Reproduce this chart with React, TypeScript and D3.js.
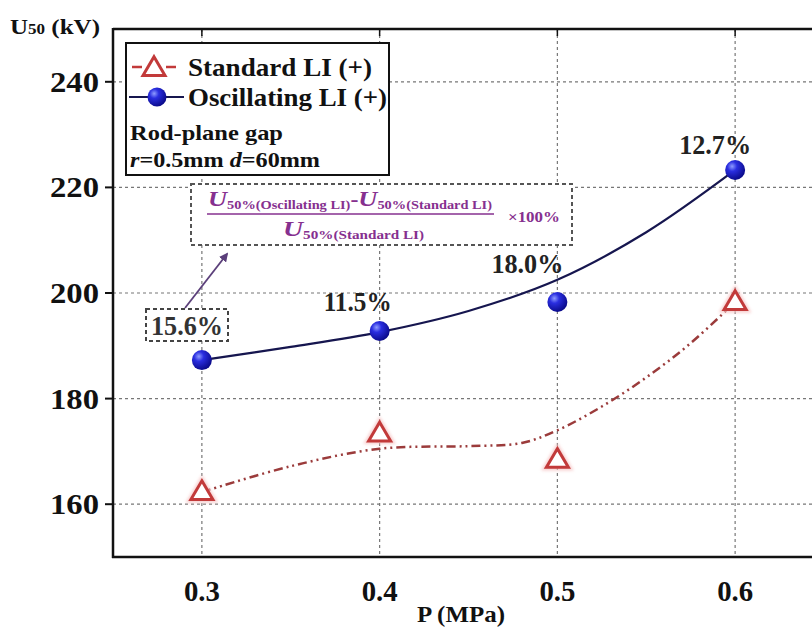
import React from "react";
import * as d3 from "d3";

const pressures = [0.3, 0.4, 0.5, 0.6];
const xTicks = [0.3, 0.4, 0.5, 0.6];
const yTicks = [160, 180, 200, 220, 240];
const standardLI = [162.3, 173.4, 168.4, 198.3];
const oscillatingLI = [187.3, 192.8, 198.3, 223.3];
const increaseLabels = ["15.6%", "11.5%", "18.0%", "12.7%"];
// fitted trend curves
const oscFitX = [0.3, 0.35, 0.4, 0.45, 0.5, 0.55, 0.6];
const oscFitY = [187.3, 189.8, 192.6, 196.6, 202.5, 211.5, 223.3];
const stdFitX = [0.3, 0.35, 0.4, 0.45, 0.48, 0.5, 0.525, 0.55, 0.575, 0.6];
const stdFitY = [162.3, 167.2, 170.5, 171.0, 171.6, 174.0, 178.5, 184.0, 190.5, 198.3];

const W = 812;
const H = 630;
const FONT = "Liberation Serif, Times New Roman, Times, Tinos, Nimbus Roman, Noto Serif, DejaVu Serif, serif";

export default function App() {
  const x = d3.scaleLinear().domain([0.25, 0.65]).range([113, 824]);
  const y = d3.scaleLinear().domain([150, 250]).range([557, 29]);

  const line = d3
    .line<[number, number]>()
    .x((d) => x(d[0]))
    .y((d) => y(d[1]))
    .curve(d3.curveCatmullRom.alpha(0.5));

  const oscPath = line(oscFitX.map((v, i) => [v, oscFitY[i]]) as [number, number][]) || "";
  const stdPath = line(stdFitX.map((v, i) => [v, stdFitY[i]]) as [number, number][]) || "";

  const tri = (cx: number, cy: number, s: number) => {
    const h = s * 0.85;
    return `M${cx},${cy - h * 0.6}L${cx + s / 2},${cy + h * 0.4}L${cx - s / 2},${cy + h * 0.4}Z`;
  };

  const labelPos = [
    { dx: -16, dy: 0, w: 0 },
    { dx: -22, dy: -20, w: 68 },
    { dx: -30, dy: -29, w: 72 },
    { dx: -20, dy: -16, w: 72 },
  ];

  const red = "#c23a3a";
  const redLine = "#9b3b3b";
  const purple = "#86308f";
  const adj = "spacingAndGlyphs";

  return (
    <svg
      width={W}
      height={H}
      style={{ position: "absolute", left: 0, top: 0, background: "#fff", fontFamily: FONT }}
    >
      <defs>
        <radialGradient id="ball" cx="0.35" cy="0.32" r="0.7">
          <stop offset="0" stopColor="#8f9cff" />
          <stop offset="0.35" stopColor="#2a2ee0" />
          <stop offset="1" stopColor="#0a0a8a" />
        </radialGradient>
        <filter id="glow" x="-50%" y="-50%" width="200%" height="200%">
          <feGaussianBlur stdDeviation="1.5" />
        </filter>
        <marker id="arr" viewBox="0 0 10 10" refX="8" refY="5" markerWidth="5" markerHeight="5" orient="auto">
          <path d="M0,0L10,5L0,10Z" fill="#5b3f7a" />
        </marker>
      </defs>
      <rect x={0} y={0} width={W} height={H} fill="#fff" />

      {/* grid */}
      {xTicks.map((t) => (
        <line key={"gx" + t} x1={x(t)} x2={x(t)} y1={29} y2={557} stroke="#777" strokeWidth={1.2} strokeDasharray="3,3" />
      ))}
      {yTicks.map((t) => (
        <line key={"gy" + t} x1={113} x2={W} y1={y(t)} y2={y(t)} stroke="#777" strokeWidth={1.2} strokeDasharray="3,3" />
      ))}

      {/* axes frame */}
      <line x1={113} x2={W} y1={29} y2={29} stroke="#111" strokeWidth={2.5} />
      <line x1={113} x2={113} y1={28} y2={558} stroke="#111" strokeWidth={2.5} />
      <line x1={112} x2={W} y1={557} y2={557} stroke="#111" strokeWidth={2.5} />
      {yTicks.map((t) => (
        <line key={"ty" + t} x1={105} x2={113} y1={y(t)} y2={y(t)} stroke="#111" strokeWidth={2} />
      ))}
      {xTicks.map((t) => (
        <line key={"tx" + t} x1={x(t)} x2={x(t)} y1={29} y2={36} stroke="#111" strokeWidth={1.5} />
      ))}

      {/* tick labels */}
      {yTicks.map((t) => (
        <text key={"ly" + t} x={50} y={y(t) + 10} fontSize={29} fontWeight="bold" fill="#111" textLength={49} lengthAdjust={adj}>
          {t}
        </text>
      ))}
      {xTicks.map((t) => (
        <text key={"lx" + t} x={x(t) - 18} y={601} fontSize={29} fontWeight="bold" fill="#111" textLength={36} lengthAdjust={adj}>
          {t.toFixed(1)}
        </text>
      ))}
      <text x={417} y={622} fontSize={23} fontWeight="bold" fill="#111" textLength={88} lengthAdjust={adj}>
        P (MPa)
      </text>
      <text x={10} y={34} fontWeight="bold" fill="#111" textLength={90} lengthAdjust={adj}>
        <tspan fontSize={22}>U</tspan>
        <tspan fontSize={15}>50</tspan>
        <tspan fontSize={22}> (kV)</tspan>
      </text>

      {/* fit curves */}
      <path d={stdPath} fill="none" stroke={redLine} strokeWidth={2.5} strokeDasharray="9,4,2,4,2,4" />
      <path d={oscPath} fill="none" stroke="#16164f" strokeWidth={2.2} />

      {/* standard markers */}
      {pressures.map((p, i) => (
        <g key={"s" + i}>
          <path d={tri(x(p), y(standardLI[i]), 24)} fill="none" stroke="#f6c4c4" strokeWidth={5} filter="url(#glow)" opacity={0.8} />
          <path d={tri(x(p), y(standardLI[i]), 22)} fill="#fff" stroke={red} strokeWidth={3} />
        </g>
      ))}
      {/* oscillating markers */}
      {pressures.map((p, i) => (
        <circle key={"o" + i} cx={x(p)} cy={y(oscillatingLI[i])} r={10} fill="url(#ball)" />
      ))}

      {/* percentage labels */}
      {pressures.map((p, i) =>
        i === 0 ? null : (
          <text
            key={"pl" + i}
            x={x(p) + labelPos[i].dx - labelPos[i].w / 2}
            y={y(oscillatingLI[i]) + labelPos[i].dy}
            fontSize={27}
            fontWeight="bold"
            fill="#222"
            textLength={labelPos[i].w}
            lengthAdjust={adj}
          >
            {increaseLabels[i]}
          </text>
        )
      )}
      {/* first label in dashed box */}
      <rect x={146} y={309} width={82} height={32} fill="#fff" stroke="#444" strokeWidth={2} strokeDasharray="4,3" />
      <text x={151} y={335} fontSize={27} fontWeight="bold" fill="#333" textLength={72} lengthAdjust={adj}>
        {increaseLabels[0]}
      </text>
      <line x1={185} y1={308} x2={227} y2={254} stroke="#5b3f7a" strokeWidth={1.8} markerEnd="url(#arr)" />

      {/* formula box */}
      <rect x={191} y={184} width={381} height={61} fill="#fff" stroke="#555" strokeWidth={2} strokeDasharray="4,3" />
      <text x={208} y={206} fontWeight="bold" fill={purple} textLength={284} lengthAdjust={adj}>
        <tspan fontSize={22} fontStyle="italic">U</tspan>
        <tspan fontSize={12} dy={3}>50%(Oscillating LI)</tspan>
        <tspan fontSize={20} dy={-3}>-</tspan>
        <tspan fontSize={22} fontStyle="italic">U</tspan>
        <tspan fontSize={12} dy={3}>50%(Standard LI)</tspan>
      </text>
      <line x1={207} x2={494} y1={214} y2={214} stroke={purple} strokeWidth={1.5} />
      <text x={283} y={236} fontWeight="bold" fill={purple} textLength={141} lengthAdjust={adj}>
        <tspan fontSize={22} fontStyle="italic">U</tspan>
        <tspan fontSize={12} dy={3}>50%(Standard LI)</tspan>
      </text>
      <text x={508} y={222} fontSize={15} fontWeight="bold" fill={purple} textLength={52} lengthAdjust={adj}>
        ×100%
      </text>

      {/* legend */}
      <rect x={126} y={43} width={263} height={132} fill="#fff" stroke="#111" strokeWidth={2} />
      <line x1={132} x2={142} y1={67} y2={67} stroke={red} strokeWidth={2.5} />
      <line x1={166} x2={176} y1={67} y2={67} stroke={red} strokeWidth={2.5} />
      <path d={tri(154, 68, 22)} fill="#fff" stroke={red} strokeWidth={3} />
      <text x={188} y={76} fontSize={26} fontWeight="bold" fill="#111" textLength={184} lengthAdjust={adj}>
        Standard LI (+)
      </text>
      <line x1={129} x2={184} y1={97} y2={97} stroke="#16164f" strokeWidth={2} />
      <circle cx={157} cy={97} r={9.5} fill="url(#ball)" />
      <text x={188} y={106} fontSize={26} fontWeight="bold" fill="#111" textLength={199} lengthAdjust={adj}>
        Oscillating LI (+)
      </text>
      <text x={130} y={140} fontSize={22} fontWeight="bold" fill="#111" textLength={153} lengthAdjust={adj}>
        Rod-plane gap
      </text>
      <text x={130} y={167} fontSize={22} fontWeight="bold" fill="#111" textLength={190} lengthAdjust={adj}>
        <tspan fontStyle="italic">r</tspan>=0.5mm <tspan fontStyle="italic">d</tspan>=60mm
      </text>
    </svg>
  );
}
